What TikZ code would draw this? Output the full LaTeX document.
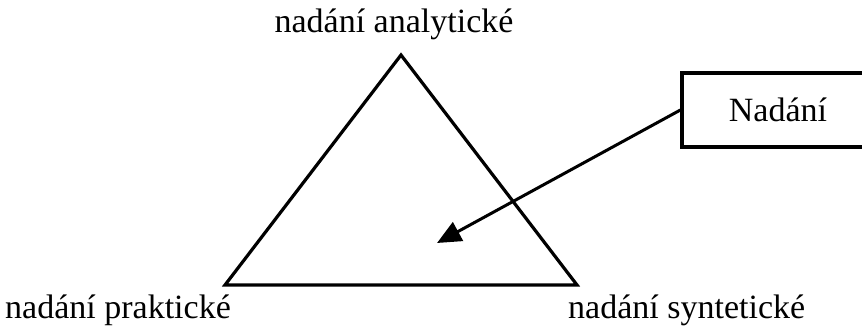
\documentclass[tikz,border=0pt]{standalone}
\usepackage{fontspec}
\setmainfont{Liberation Serif}
\usetikzlibrary{arrows.meta, positioning}
\tikzstyle{corner} = [inner sep=0pt, font=\fontsize{34}{40}\selectfont]
\tikzstyle{framebox} = [rectangle, draw=black, line width=3.2pt, minimum width=192pt, minimum height=74pt, text centered, font=\fontsize{34}{40}\selectfont]
\tikzstyle{arrow} = [line width=3pt, -{Triangle[length=24pt, width=21pt]}]

\begin{document}
\begin{tikzpicture}[x=1pt, y=-1pt]
    \useasboundingbox (0,0) rectangle (862,329);
    \coordinate (top) at (401,55);
    \coordinate (left) at (225,285);
    \coordinate (right) at (577,285);
    \coordinate (target) at (437,243);

    \draw [line width=3.2pt, line join=miter] (top) -- (left) -- (right) -- cycle;

    \node (analytic) [corner, anchor=base] at (394,33) {nadání analytické};
    \node (practical) [corner, anchor=base west] at (5,318) {nadání praktické};
    \node (synthetic) [corner, anchor=base west] at (568,318) {nadání syntetické};
    \node (gift) [framebox] at (778,110) {Nadání};

    \draw [arrow] (gift.west) -- (target);
\end{tikzpicture}
\end{document}
